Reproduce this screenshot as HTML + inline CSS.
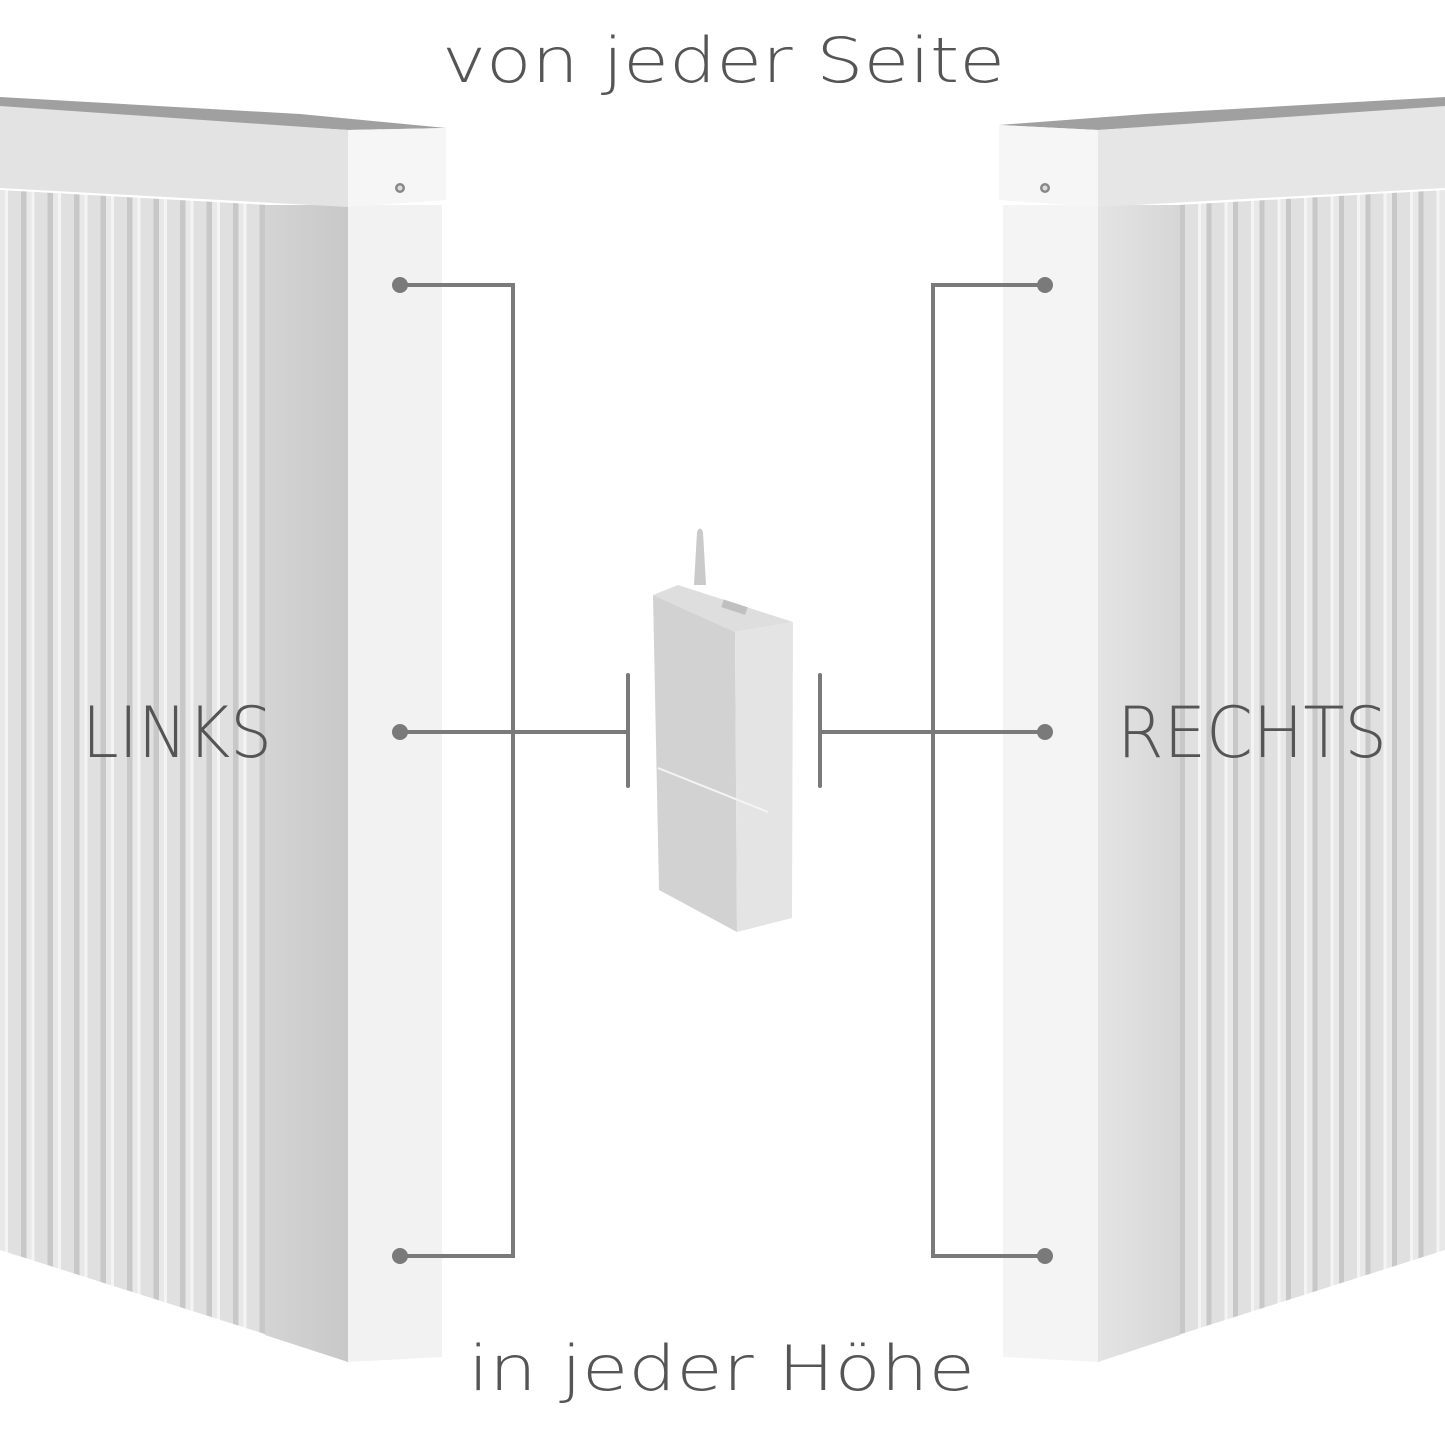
<!DOCTYPE html>
<html><head><meta charset="utf-8"><style>html,body{margin:0;padding:0;background:#fff}svg{display:block}</style></head>
<body>
<svg width="1445" height="1445" viewBox="0 0 1445 1445" xmlns="http://www.w3.org/2000/svg">
<defs>
<pattern id="finL" x="0" y="0" width="26.5" height="10" patternUnits="userSpaceOnUse">
<rect width="26.5" height="10" fill="#d6d6d6"/>
<rect x="0" width="5" height="10" fill="#e8e8e8"/>
<rect x="5" width="3" height="10" fill="#f4f4f4"/>
<rect x="8" width="13" height="10" fill="#e0e0e0"/>
<rect x="21" width="5.5" height="10" fill="#c8c8c8"/>
</pattern>
<pattern id="finR" x="1180" y="0" width="26.5" height="10" patternUnits="userSpaceOnUse">
<rect width="26.5" height="10" fill="#d6d6d6"/>
<rect x="0" width="5" height="10" fill="#c8c8c8"/>
<rect x="5" width="13" height="10" fill="#e0e0e0"/>
<rect x="18" width="3" height="10" fill="#f4f4f4"/>
<rect x="21" width="5.5" height="10" fill="#e8e8e8"/>
</pattern>
<linearGradient id="sideL" x1="0" x2="1"><stop offset="0" stop-color="#d4d4d4"/><stop offset="1" stop-color="#c8c8c8"/></linearGradient>
<linearGradient id="sideR" x1="0" x2="1"><stop offset="0" stop-color="#e4e4e4"/><stop offset="1" stop-color="#d6d6d6"/></linearGradient>
</defs>

<!-- LEFT RADIATOR -->
<polygon points="0,190 268,205 268,1335 0,1250" fill="url(#finL)"/>
<polygon points="265,205 348,205 348,1362 265,1335" fill="url(#sideL)"/>
<polygon points="348,205 442,205 442,1357 348,1362" fill="#f2f2f2"/>
<polygon points="0,97 300,114 446,128 348,130 0,108" fill="#a0a0a0"/>
<polygon points="0,106 348,130 348,207 0,188" fill="#e3e3e3"/>
<polygon points="348,130 446,128 446,200 348,207" fill="#f6f6f6"/>
<circle cx="400" cy="188" r="5" fill="#888"/><circle cx="400" cy="188" r="2.5" fill="#ddd"/>

<!-- RIGHT RADIATOR -->
<polygon points="1445,190 1178,205 1178,1335 1445,1250" fill="url(#finR)"/>
<polygon points="1098,205 1180,205 1180,1335 1098,1362" fill="url(#sideR)"/>
<polygon points="1003,205 1098,205 1098,1362 1003,1357" fill="#f4f4f4"/>
<polygon points="1445,97 1145,114 999,125 1098,130 1445,108" fill="#a0a0a0"/>
<polygon points="1445,106 1098,130 1098,207 1445,188" fill="#e6e6e6"/>
<polygon points="1098,130 999,125 999,200 1098,207" fill="#f6f6f6"/>
<circle cx="1045" cy="188" r="5" fill="#888"/><circle cx="1045" cy="188" r="2.5" fill="#ddd"/>

<!-- DEVICE -->
<path d="M694,585 L697,532 Q700,525 703,532 L706,585 Z" fill="#cacaca"/>
<polygon points="653,595 678,585 793,622 735,632" fill="#dedede"/>
<polygon points="653,595 735,632 737,932 659,890" fill="#d2d2d2"/>
<polygon points="735,632 793,622 792,918 737,932" fill="#e4e4e4"/>
<line x1="658" y1="768" x2="768" y2="812" stroke="#f4f4f4" stroke-width="2"/>
<rect x="722" y="603" width="25" height="8" fill="#c0c0c0" transform="rotate(18 734 607)"/>

<!-- CONNECTORS -->
<g stroke="#7a7a7a" stroke-width="4" fill="none" stroke-linecap="round">
<polyline points="400,285 513,285 513,1256 400,1256"/>
<line x1="400" y1="732" x2="628" y2="732"/>
<line x1="628" y1="675" x2="628" y2="786"/>
<polyline points="1045,285 933,285 933,1256 1045,1256"/>
<line x1="1045" y1="732" x2="820" y2="732"/>
<line x1="820" y1="675" x2="820" y2="786"/>
</g>
<g fill="#7a7a7a">
<circle cx="400" cy="285" r="8"/><circle cx="400" cy="732" r="8"/><circle cx="400" cy="1256" r="8"/>
<circle cx="1045" cy="285" r="8"/><circle cx="1045" cy="732" r="8"/><circle cx="1045" cy="1256" r="8"/>
</g>

<!-- TEXT -->
<g font-family="DejaVu Sans, Liberation Sans, sans-serif" fill="#555" font-weight="200">
<text x="442" y="82" font-size="62" textLength="563" lengthAdjust="spacingAndGlyphs">von jeder Seite</text>
<text x="82" y="757" font-size="70" textLength="190" lengthAdjust="spacingAndGlyphs">LINKS</text>
<text x="1117" y="757" font-size="70" textLength="270" lengthAdjust="spacingAndGlyphs">RECHTS</text>
<text x="468" y="1390" font-size="62" textLength="507" lengthAdjust="spacingAndGlyphs">in jeder Höhe</text>
</g>
</svg>
</body></html>
